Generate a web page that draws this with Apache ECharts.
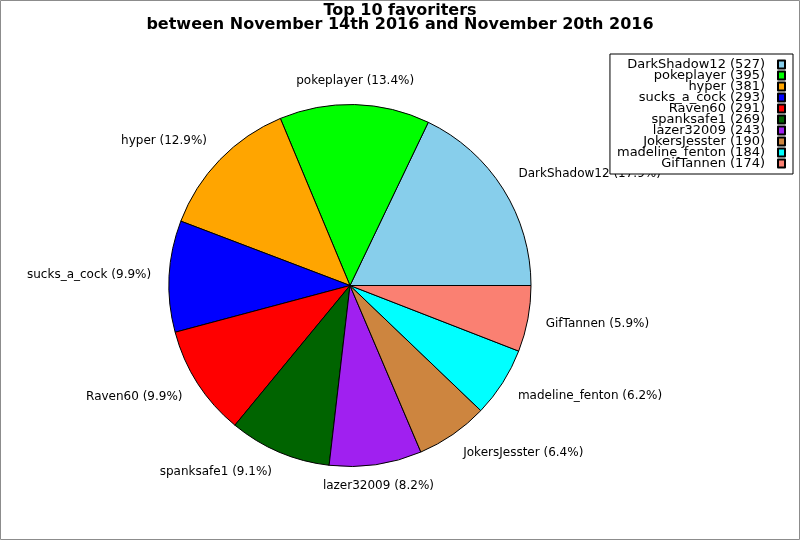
<!DOCTYPE html>
<html><head><meta charset="utf-8">
<script src="https://cdn.jsdelivr.net/npm/echarts@6/dist/echarts.min.js"></script>
<style>html,body{margin:0;padding:0;background:#fff}#c{width:800px;height:540px}</style>
</head><body><div id="c"></div>
<script>
const names = ['DarkShadow12','pokeplayer','hyper','sucks_a_cock','Raven60','spanksafe1','lazer32009','JokersJesster','madeline_fenton','GifTannen'];
const counts = [527,395,381,293,291,269,243,190,184,174];
const colors = ['#87CEEB','#00FF00','#FFA500','#0000FF','#FF0000','#006400','#A020F0','#CD853F','#00FFFF','#FA8072'];
const titleLines = ['Top 10 favoriters','between November 14th 2016 and November 20th 2016'];

const total = counts.reduce((a,b)=>a+b,0);
const CX = 350, CY = 285.5, R = 181;
const FONT = 'DejaVu Sans';
const chart = echarts.init(document.getElementById('c'));

chart.setOption({
  animation: false,
  backgroundColor: '#fff',
  color: colors,
  title: {
    text: titleLines.join('\n'),
    left: 'center', top: 4, padding: 0,
    textStyle: {fontFamily: FONT, fontWeight: 'bold', fontSize: 16, lineHeight: 14, color: '#000'}
  },
  legend: {
    orient: 'vertical', align: 'right', right: 7, top: 54,
    padding: [4,7,4,7], itemGap: -2, itemWidth: 7, itemHeight: 8, icon: 'rect',
    selectedMode: false,
    backgroundColor: '#fff', borderColor: '#000', borderWidth: 1, borderRadius: 0,
    textStyle: {fontFamily: FONT, fontSize: 13, color: '#000', padding: [0,8,0,0]},
    formatter: n => n + ' (' + counts[names.indexOf(n)] + ')',
    data: names
  },
  graphic: [{
    type: 'rect', z: 100, silent: true,
    shape: {x: 0.5, y: 0.5, width: 799, height: 539},
    style: {fill: null, stroke: '#8c8c8c', lineWidth: 1}
  }],
  series: [{
    type: 'pie',
    center: [CX, CY], radius: R,
    startAngle: 0, clockwise: false,
    avoidLabelOverlap: false,
    emphasis: {disabled: true},
    itemStyle: {borderColor: '#000', borderWidth: 1},
    label: {
      show: true, position: 'outside', distanceToLabelLine: 0,
      fontFamily: FONT, fontSize: 12, color: '#000',
      formatter: p => p.name + ' (' + (p.value / total * 100).toFixed(1) + '%)'
    },
    labelLine: {show: false, length: R * 0.1, length2: 0},
    labelLayout: function (p) {
      const r = p.labelRect;
      const ax = p.align === 'right' ? r.x + r.width : (p.align === 'center' ? r.x + r.width / 2 : r.x);
      const ay = r.y + r.height / 2;
      const dx = ax - CX, dy = ay - CY;
      const d = Math.sqrt(dx * dx + dy * dy);
      const c = dx / d, s = -dy / d;
      const align = Math.abs(c) < 0.3 ? 'center' : (c > 0 ? 'left' : 'right');
      const off = s > 0 ? -6 * Math.min(1, s * 3) : 3.5 * Math.min(1, -s * 3);
      return {x: ax, y: ay + off, align: align, verticalAlign: 'middle'};
    },
    data: names.map((n, i) => ({name: n, value: counts[i]}))
  }]
});
</script></body></html>
